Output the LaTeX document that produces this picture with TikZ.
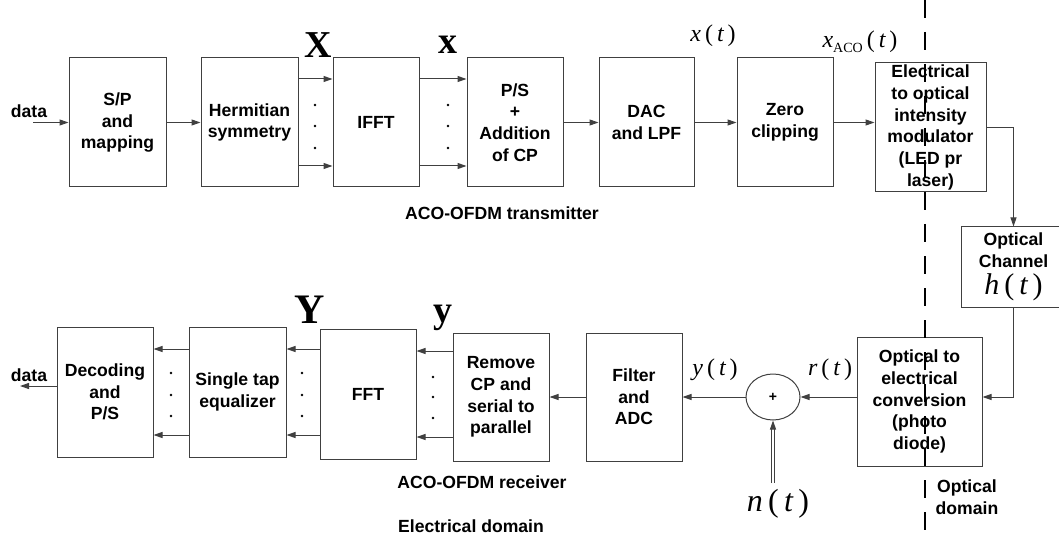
\documentclass[tikz,border=0pt]{standalone}
\usepackage{fontspec}
\setsansfont{Liberation Sans}
\newfontfamily\tnr{Liberation Serif}
\usetikzlibrary{arrows.meta,shapes.geometric}
\newcommand\sigt[2]{{\fontsize{#1}{#1}\tnr\mdseries\selectfont\itshape #2\,\upshape(\,\itshape t\,\upshape)}}
\newcommand\bvec[2]{{\fontsize{#1}{#1}\tnr\selectfont\bfseries #2}}

\begin{document}
\begin{tikzpicture}[x=1pt,y=-1pt,
    blk/.style={draw=black!75,line width=1pt,align=center,inner sep=0pt,
      minimum width=96,minimum height=129,
      font=\sffamily\bfseries\fontsize{17.6}{21.7}\selectfont},
    flow/.style={draw=black!75,line width=1pt,-{Triangle[length=9pt,width=6pt]}},
    lbl/.style={align=center,inner sep=0pt,
      font=\sffamily\bfseries\fontsize{17.6}{21.7}\selectfont},
    dot/.style={circle,fill=black,inner sep=0pt,minimum size=2.6pt}]
    \useasboundingbox (0,0) rectangle (1059,537);
    % transmitter
    \node[blk,minimum width=97] (sp) at (117.5,122.5) {S/P\\and\\mapping};
    \node[blk,minimum width=97] (herm) at (249.5,122.5) {Hermitian\\symmetry};
    \node[blk,minimum width=86] (ifft) at (376,122.5) {IFFT};
    \node[blk] (ps) at (515,122.5) {P/S\\+\\Addition\\of CP};
    \node[blk,minimum width=95] (dac) at (646.5,122.5) {DAC\\and LPF};
    \node[blk] (zero) at (785,122.5) {Zero\\clipping};
    \node[blk,minimum width=111] (eo) at (930.5,127.5) {Electrical\\to optical\\intensity\\modulator\\(LED pr\\laser)};
    \node[blk,minimum width=105,minimum height=80] (chan) at (1013.5,267)
      {Optical\\Channel\\[5pt]\sigt{30}{h}};
    % receiver
    \node[blk,minimum width=125] (oe) at (919.5,401.5) {Optical to\\electrical\\conversion\\(photo\\diode)};
    \node[draw=black!75,line width=1pt,ellipse,minimum width=54,minimum height=46,
      inner sep=0pt,font=\sffamily\bfseries\fontsize{14}{14}\selectfont] (sum) at (773,397) {+};
    \node[blk,minimum height=128] (filt) at (634,397) {Filter\\and\\ADC};
    \node[blk,minimum height=128] (rem) at (501,397) {Remove\\CP and\\serial to\\parallel};
    \node[blk,minimum height=130] (fft) at (368,394) {FFT};
    \node[blk,minimum width=97,minimum height=130] (eq) at (237.5,392) {Single tap\\equalizer};
    \node[blk,minimum height=130] (dec) at (105,392) {Decoding\\and\\P/S};

    \coordinate (din) at (33,122.5);
    \coordinate (dout) at (20,386);
    \coordinate (nsrc) at (773,483);

    \node[lbl] (ldin) at (29,111) {data};
    \node[lbl] (ldout) at (29,375) {data};
    \node[lbl] (ltx) at (502,213) {ACO-OFDM transmitter};
    \node[lbl] (lrx) at (482,482) {ACO-OFDM receiver};
    \node[lbl] (lel) at (471,526) {Electrical domain};
    \node[lbl] (lop) at (967,497) {Optical\\domain};

    \node (lX) at (318,45) {\bvec{38}{X}};
    \node (lx) at (448,45) {\bvec{38}{x}};
    \node (lY) at (310,310) {\bvec{42}{Y}};
    \node (ly) at (443,318) {\bvec{38}{y}};
    \node (lxt) at (713,36) {\sigt{24}{x}};
    \node (lxa) at (860,42) {{\fontsize{24}{24}\tnr\selectfont\itshape x\raisebox{-5pt}{\fontsize{14}{14}\selectfont\upshape ACO}\,\upshape(\,\itshape t\,\upshape)}};
    \node (lyt) at (715,370) {\sigt{24}{y}};
    \node (lrt) at (830,370) {\sigt{24}{r}};
    \node (lnt) at (778,504) {\sigt{32}{n}};

    \draw[flow] (din) -- (sp.west);
    \draw[flow] (sp) -- (herm);
    \draw[flow] ([yshift=43.5pt]herm.east) -- ([yshift=43.5pt]ifft.west);
    \draw[flow] ([yshift=-43.5pt]herm.east) -- ([yshift=-43.5pt]ifft.west);
    \draw[flow] ([yshift=43.5pt]ifft.east) -- ([yshift=43.5pt]ps.west);
    \draw[flow] ([yshift=-43.5pt]ifft.east) -- ([yshift=-43.5pt]ps.west);
    \draw[flow] (ps) -- (dac);
    \draw[flow] (dac) -- (zero);
    \draw[flow] (zero.east) -- (zero.east -| eo.west);
    \draw[flow] (eo.east) -| (chan.north);
    \draw[flow] (chan.south) |- (oe.east |- sum.east);
    \draw[flow] (oe.west |- sum.east) -- (sum.east);
    \draw[flow,double,double distance=2pt] (nsrc) -- (sum.south);
    \draw[flow] (sum.west) -- (filt.east |- sum.west);
    \draw[flow] (filt) -- (rem);
    \draw[flow] ([yshift=43pt]fft.east -| rem.west) -- ([yshift=43pt]fft.east);
    \draw[flow] ([yshift=-43pt]fft.east -| rem.west) -- ([yshift=-43pt]fft.east);
    \draw[flow] ([yshift=43pt]eq.east -| fft.west) -- ([yshift=43pt]eq.east);
    \draw[flow] ([yshift=-43pt]eq.east -| fft.west) -- ([yshift=-43pt]eq.east);
    \draw[flow] ([yshift=43pt]dec.east -| eq.west) -- ([yshift=43pt]dec.east);
    \draw[flow] ([yshift=-43pt]dec.east -| eq.west) -- ([yshift=-43pt]dec.east);
    \draw[flow] ([yshift=6pt]dec.west) -- (dout);

    \foreach \y in {105,126,148} {
      \node[dot] (ha\y) at (315,\y) {};
      \node[dot] (hb\y) at (448,\y) {};
    }
    \foreach \y in {373,395,416} {
      \node[dot] (ra\y) at (171,\y) {};
      \node[dot] (rb\y) at (302,\y) {};
    }
    \foreach \y in {377,397,418}
      \node[dot] (rc\y) at (433,\y) {};

    \draw[line width=2pt,dash pattern=on 18pt off 14pt] (925,0) -- (925,537);
\end{tikzpicture}
\end{document}
